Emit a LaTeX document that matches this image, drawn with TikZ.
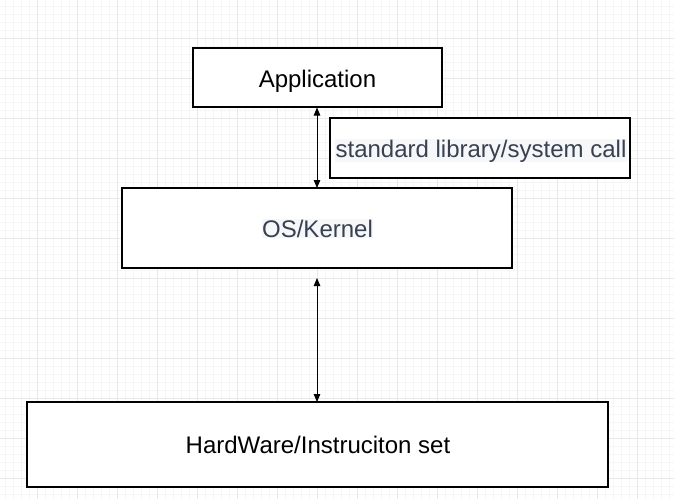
\documentclass[tikz,border=0pt]{standalone}
\usepackage{fontspec}
\setmainfont{Liberation Sans}
\usetikzlibrary{arrows.meta}
\definecolor{gridminor}{RGB}{246,246,246}
\definecolor{gridmajor}{RGB}{232,232,232}
\definecolor{softtext}{RGB}{55,65,81}
\definecolor{hilite}{RGB}{246,247,248}
\tikzset{
  box/.style={draw=black, line width=1.1pt, fill=white, inner sep=0pt},
  boxtext/.style={font=\fontsize{24}{28}\selectfont, text=black, anchor=base, inner sep=0pt},
  softlabel/.style={font=\fontsize{24}{28}\selectfont, text=softtext, fill=hilite, inner sep=0.5pt, anchor=base},
  link/.style={line width=1pt, {Triangle[length=8pt,width=6.5pt]}-{Triangle[length=8pt,width=6.5pt]}}
}
\begin{document}
\begin{tikzpicture}[x=1pt,y=-1pt]
\useasboundingbox (0,0) rectangle (674,499);
\fill[white] (0,0) rectangle (674,499);
\begin{scope}
\clip (0,0) rectangle (674,499);
\foreach \x in {5,13,...,677} \draw[gridminor, line width=0.8pt] (\x,0) -- (\x,499);
\foreach \y in {6,14,...,502} \draw[gridminor, line width=0.8pt] (0,\y) -- (674,\y);
\foreach \x in {37,77,...,677} \draw[gridmajor, line width=0.8pt] (\x,0) -- (\x,499);
\foreach \y in {38,78,...,502} \draw[gridmajor, line width=0.8pt] (0,\y) -- (674,\y);
\end{scope}

\node[box, minimum width=249pt, minimum height=59pt] (app) at (317.5,77.5) {};
\node[boxtext] (apptext) at (317.5,87) {Application};

\node[box, minimum width=300pt, minimum height=60pt] (lib) at (480,148) {};
\node[softlabel] (libtext) at (481,157) {standard library/system call};

\node[box, minimum width=390pt, minimum height=80pt] (os) at (317,228) {};
\node[softlabel] (ostext) at (317.5,237) {OS/Kernel};

\node[box, minimum width=581pt, minimum height=85pt] (hw) at (317.5,444.5) {};
\node[boxtext] (hwtext) at (318,453.3) {HardWare/Instruciton set};

\coordinate (apptip) at (317,107.5);
\coordinate (ostip) at (317,188);
\coordinate (osbelow) at (317,278);
\coordinate (hwtip) at (317,402);
\draw[link] (apptip) -- (ostip);
\draw[link] (osbelow) -- (hwtip);
\end{tikzpicture}
\end{document}
